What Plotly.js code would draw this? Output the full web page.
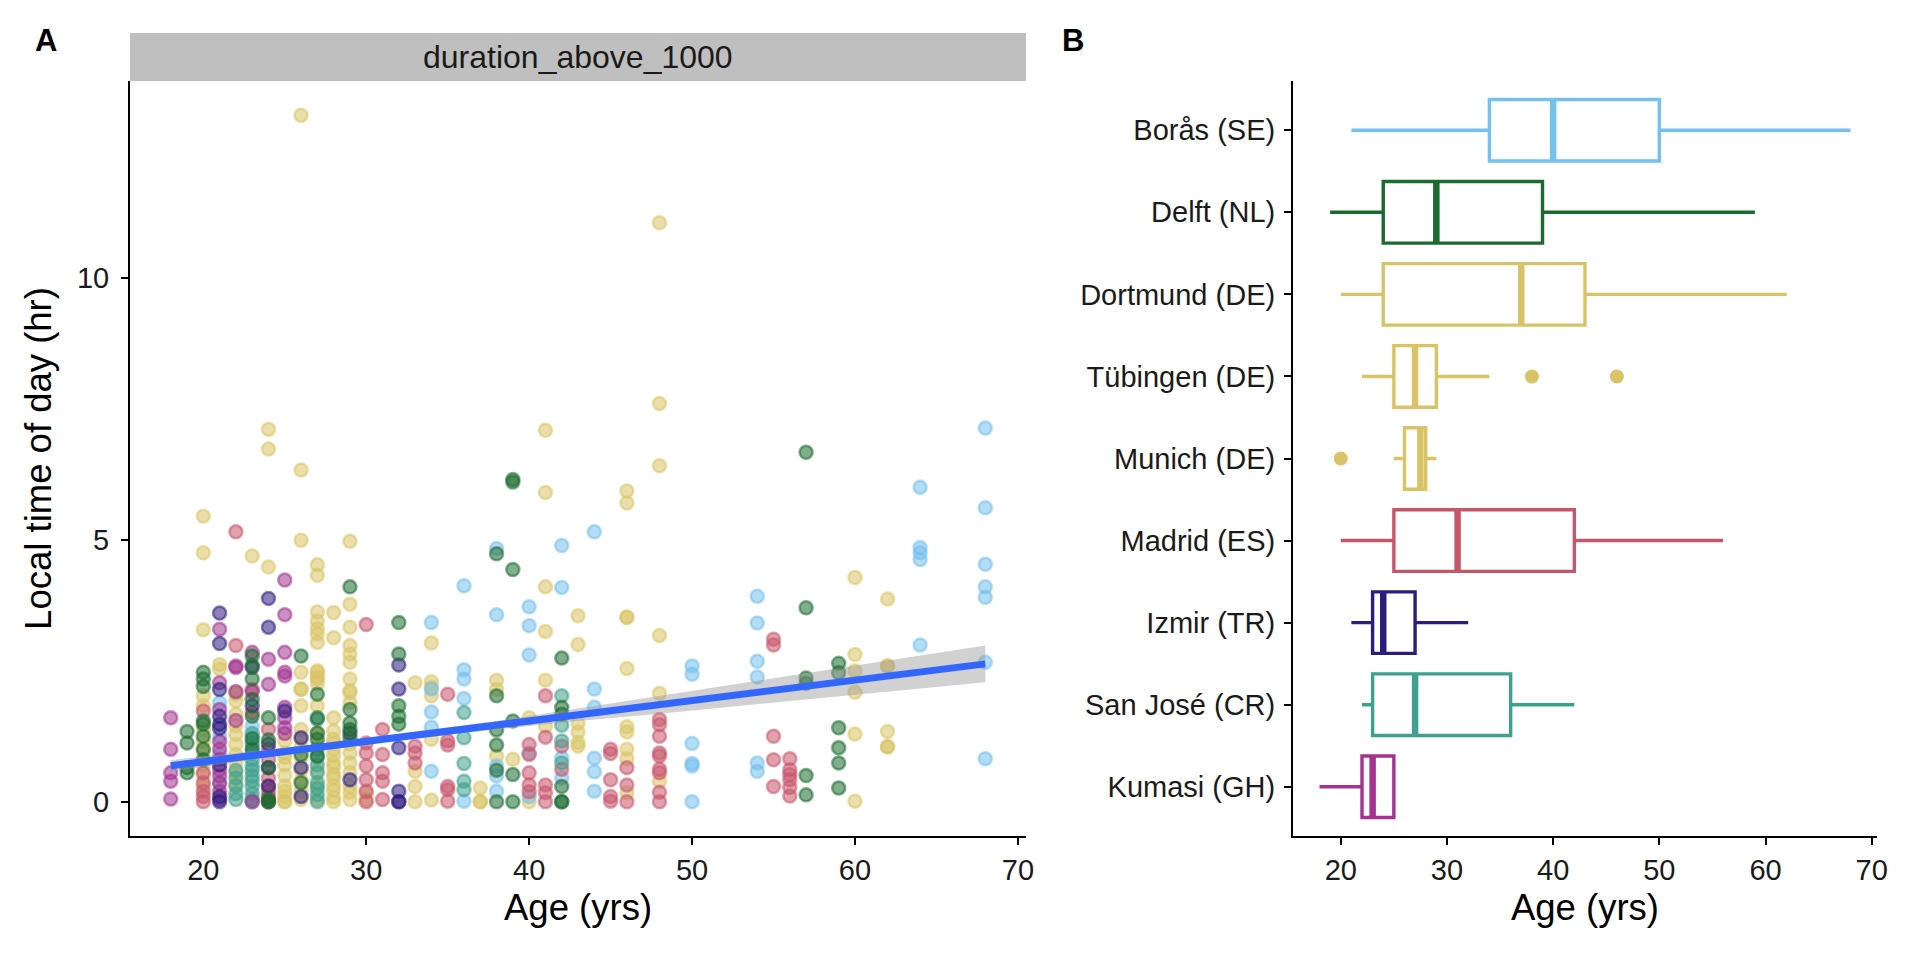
<!DOCTYPE html>
<html>
<head>
<meta charset="utf-8">
<script src="https://cdn.plot.ly/plotly-3.0.1.min.js"></script>
<style>
html,body{margin:0;padding:0;background:#fff;}
#chart{width:1920px;height:960px;}
</style>
</head>
<body>
<div id="chart"></div>
<script>
// ---------- Panel A: events (age, local time of day in hr), per city ----------
const borasPts = [[21,1.89],[21,1.25],[21,0.9],[21,0.36],[23,1.44],[23,1.25],[23,1.06],
  [34,3.42],[34,2.15],[34,1.71],[34,1.42],[34,0.58],[36,4.12],[36,2.52],[36,2.34],[36,1.97],[36,0.01],
  [38,4.83],[38,3.57],[38,0.68],[38,0.49],[38,0.2],[40,3.72],[40,3.36],[40,2.8],[40,0.93],[40,0.1],
  [42,4.89],[42,4.09],[42,0.84],[42,0.45],[44,5.15],[44,2.15],[44,1.8],[44,0.83],[44,0.57],[44,0.2],
  [50,2.59],[50,2.43],[50,1.11],[50,0.73],[50,0.68],[50,0.0],[54,3.92],[54,3.41],[54,2.68],[54,2.38],
  [54,0.74],[54,0.58],[64,6.0],[64,4.85],[64,4.75],[64,4.62],[64,2.99],
  [68,7.13],[68,5.61],[68,4.53],[68,4.1],[68,3.9],[68,2.66],[68,0.82]];
const delftPts = [[19,1.34],[19,1.12],[19,0.65],[19,0.55],
  [20,2.47],[20,2.34],[20,2.2],[20,1.54],[20,1.48],[20,1.25],[20,1.0],[20,0.8],
  [23,2.78],[23,2.6],[23,2.34],[23,1.95],[23,1.63],[23,1.2],[23,1.0],
  [24,1.6],[24,1.18],[24,0.65],[24,0.0],[24,0.0],[24,0.05],[26,2.78],[26,0.9],[26,0.36],
  [27,2.05],[27,1.6],[27,1.31],[27,1.19],[27,0.87],[29,4.1],[29,1.76],[29,1.5],[29,1.38],[29,1.22],
  [32,3.42],[32,2.82],[32,1.83],[32,1.63],[32,1.48],[38,4.73],[38,2.02],[38,1.37],[38,1.08],[38,0.6],[38,0.0],
  [39,6.15],[39,6.1],[39,4.43],[39,1.54],[39,0.52],[39,0.0],[42,2.74],[42,1.8],[42,1.67],[42,0.29],[42,0.0],[42,0.0],
  [57,6.67],[57,3.7],[57,2.36],[57,2.26],[57,0.5],[57,0.13],[59,2.64],[59,2.46],[59,1.41],[59,1.03],[59,0.74],[59,0.26]];
const dortmundPts = [[21,2.62],[21,2.53],[23,4.69],[24,7.11],[24,6.73],[24,4.48],
  [26,2.14],[26,1.83],[26,1.38],[26,1.2],[26,1.03],[26,0.85],[26,0.6],[26,0.4],[26,0.2],[26,0.04],
  [30,0.17],[30,0.04],[37,0.26],[37,0.0],[37,0.0],[39,0.81],[40,1.6],[40,0.0],
  [41,7.09],[41,5.9],[41,4.1],[41,3.25],[41,2.32],[41,1.44],[43,3.55],[43,3.0],[43,1.5],[43,1.33],[43,1.13],[43,1.06],
  [46,1.43],[46,1.33],[46,1.0],[46,0.82],[46,0.17],[48,11.05],[48,7.6],[48,6.41],[48,3.17],[48,2.07],[48,0.39],
  [60,4.28],[60,2.81],[60,2.5],[60,2.09],[60,1.29],[60,0.01],[62,3.87],[62,2.59],[62,2.59],[62,1.34],[62,1.05],[62,1.05]];
const tubingenPts = [[22,2.1],[22,2.05],[22,1.92],[22,1.67],[22,1.45],[22,1.28],[22,1.09],[22,0.9],[22,0.75],[22,0.55],[22,0.33],
  [27,4.52],[27,4.32],[27,3.62],[27,3.45],[27,3.3],[27,3.2],[27,3.04],[27,2.5],[27,2.47],[27,2.38],[27,2.34],[27,2.25],
  [27,1.83],[27,1.3],[27,1.06],[27,0.6],[27,0.3],[27,0.04],
  [29,4.97],[29,3.77],[29,3.33],[29,2.98],[29,2.82],[29,2.66],[29,2.34],[29,2.12],[29,2.08],[29,1.89],
  [29,1.1],[29,0.93],[29,0.74],[29,0.55],[29,0.29],[29,0.18],[29,0.04],
  [33,2.27],[33,0.58],[33,0.29],[33,0.0],[34,3.03],[34,2.29],[34,2.18],[34,2.02],[34,1.19],[34,0.03],
  [38,2.32],[38,2.14],[38,0.87],[46,5.93],[46,5.7],[46,3.52],[46,3.52],[46,2.54]];
const munichPts = [[20,5.45],[20,4.75],[20,3.28],[20,2.02],[20,1.83],[20,1.38],[20,1.15],[20,0.96],[20,0.7],[20,0.52],[20,0.29],
  [25,1.16],[25,0.93],[25,0.85],[25,0.7],[25,0.5],[25,0.3],[25,0.2],[25,0.1],[25,0.0],[25,0.0],
  [26,13.1],[26,6.33],[26,4.99],[26,2.47],[26,2.15],
  [28,3.61],[28,3.13],[28,1.6],[28,1.35],[28,1.19],[28,1.12],[28,1.0],[28,0.88],[28,0.74],[28,0.66],
  [28,0.52],[28,0.45],[28,0.31],[28,0.22],[28,0.08],[28,0.0]];
const madridPts = [[20,1.73],[20,0.55],[20,0.36],[20,0.2],[20,0.1],[20,0.0],[22,5.15],[22,2.98],[23,2.14],[23,1.7],
  [24,1.38],[24,1.0],[24,0.8],[24,0.45],[24,0.29],[24,0.2],[24,0.1],[24,0.0],
  [30,3.38],[30,1.12],[30,0.93],[30,0.68],[30,0.42],[30,0.2],[30,0.0],[31,1.38],[31,0.9],[31,0.55],[31,0.39],[31,0.04],
  [33,1.06],[33,0.93],[33,0.74],[35,2.05],[35,1.16],[35,1.08],[35,0.29],[35,0.23],[35,0.01],
  [40,1.09],[40,0.9],[40,0.55],[40,0.32],[40,0.19],[41,2.02],[41,1.23],[41,0.32],[41,0.17],[41,0.0],[42,1.06],[42,0.62],
  [45,1.0],[45,0.92],[45,0.42],[45,0.1],[45,0.01],[46,0.65],[46,0.32],[46,0.0],
  [48,1.57],[48,1.47],[48,1.25],[48,0.93],[48,0.87],[48,0.62],[48,0.55],[48,0.18],[48,0.0],
  [55,3.1],[55,2.99],[55,1.25],[55,0.8],[55,0.29],[56,0.82],[56,0.61],[56,0.52],[56,0.42],[56,0.27],[56,0.11]];
const izmirPts = [[21,3.6],[21,3.02],[21,2.14],[21,1.63],[21,1.48],[21,1.4],[21,0.7],[21,0.1],[21,0.0],
  [23,2.56],[23,1.83],[24,3.88],[24,3.33],[24,1.1],[24,0.65],[24,0.3],[25,1.73],[26,1.22],[26,0.65],[26,0.1],
  [29,1.31],[29,0.42],[32,2.61],[32,2.15],[32,1.03],[32,0.2],[32,0.0],[32,0.0]];
const sanJosePts = [[22,0.6],[22,0.45],[22,0.3],[22,0.15],[22,0.04],
  [23,1.3],[23,1.12],[23,0.93],[23,0.8],[23,0.68],[23,0.6],[23,0.49],[23,0.4],[23,0.29],[23,0.15],[23,0.04],[23,0.0],
  [27,1.57],[27,1.0],[27,0.85],[27,0.7],[27,0.55],[27,0.36],[27,0.25],[27,0.13],[27,0.0],
  [36,1.7],[36,1.22],[36,0.73],[36,0.39],[36,0.23],[42,2.02],[42,1.46],[42,1.16],[42,0.74]];
const kumasiPts = [[18,1.6],[18,1.0],[18,0.55],[18,0.39],[18,0.05],
  [21,3.29],[21,2.27],[21,1.76],[21,1.15],[21,1.0],[21,0.81],[21,0.61],[21,0.49],[21,0.35],[21,0.2],[21,0.04],
  [22,2.59],[22,2.56],[22,2.1],[22,1.55],[23,2.85],[23,2.1],[23,0.0],[24,2.72],[24,2.24],
  [25,4.23],[25,3.57],[25,2.85],[25,2.47],[25,2.4],[25,1.8],[25,1.6],[25,1.41],[25,1.3]];

// linear fit with 95% CI
const fitAge  = [18, 23, 28, 33, 38, 43, 48, 53, 58, 63, 68];
const fitHr   = [0.685, 0.88, 1.07, 1.27, 1.46, 1.66, 1.85, 2.05, 2.24, 2.44, 2.63];
const fitLow  = [0.575, 0.80, 1.01, 1.21, 1.38, 1.54, 1.68, 1.83, 1.97, 2.13, 2.28];
const fitHigh = [0.795, 0.96, 1.13, 1.33, 1.54, 1.78, 2.02, 2.27, 2.51, 2.75, 2.98];

// ---------- Panel B: age distribution per city ----------
const cities   = ['Borås (SE)','Delft (NL)','Dortmund (DE)','Tübingen (DE)','Munich (DE)','Madrid (ES)','Izmir (TR)','San José (CR)','Kumasi (GH)'];
const ageLow   = [21, 19, 20, 22, 25, 20, 21, 22, 18];
const ageQ1    = [34, 24, 24, 25, 26, 25, 23, 23, 22];
const ageMed   = [40, 29, 37, 27, 27.5, 31, 24, 27, 23];
const ageQ3    = [50, 39, 43, 29, 28, 42, 27, 36, 25];
const ageHigh  = [68, 59, 62, 34, 29, 56, 32, 42, 25];
const outlierCity = ['Tübingen (DE)','Tübingen (DE)','Munich (DE)'];
const outlierAge  = [38, 46, 20];

const ageTicks = [20, 30, 40, 50, 60, 70];
const hrTicks  = [0, 5, 10];

// ---------- styling ----------
const cityColor = {
  'Borås (SE)':'#75C0EC','Delft (NL)':'#1A6B2D','Dortmund (DE)':'#D8C466','Tübingen (DE)':'#D8C466',
  'Munich (DE)':'#D8C466','Madrid (ES)':'#C8566B','Izmir (TR)':'#2D1C7F','San José (CR)':'#3FA18D','Kumasi (GH)':'#A3338F'
};
function rgba(hex, a){
  const n = parseInt(hex.slice(1),16);
  return 'rgba('+((n>>16)&255)+','+((n>>8)&255)+','+(n&255)+','+a+')';
}
const FONT = 'Liberation Sans, Arial, Helvetica, sans-serif';
const ALPHA = 0.55;

const scatterSets = [
  ['Dortmund (DE)', dortmundPts], ['Tübingen (DE)', tubingenPts], ['Munich (DE)', munichPts],
  ['Borås (SE)', borasPts], ['Madrid (ES)', madridPts], ['San José (CR)', sanJosePts],
  ['Kumasi (GH)', kumasiPts], ['Izmir (TR)', izmirPts], ['Delft (NL)', delftPts]
];
const traces = [];
scatterSets.forEach(([city, pts]) => {
  const c = cityColor[city];
  traces.push({
    type:'scatter', mode:'markers', xaxis:'x', yaxis:'y', name: city,
    x: pts.map(p=>p[0]), y: pts.map(p=>p[1]),
    marker:{size:13, color: rgba(c, ALPHA), line:{color: rgba(c, ALPHA), width:2.5}},
    hoverinfo:'skip'
  });
});
// CI ribbon
traces.push({type:'scatter', mode:'lines', x: fitAge, y: fitLow, line:{width:0, color:'rgba(0,0,0,0)'}, xaxis:'x', yaxis:'y', hoverinfo:'skip'});
traces.push({type:'scatter', mode:'lines', x: fitAge, y: fitHigh, line:{width:0, color:'rgba(0,0,0,0)'}, fill:'tonexty',
  fillcolor:'rgba(153,153,153,0.45)', xaxis:'x', yaxis:'y', hoverinfo:'skip'});
traces.push({type:'scatter', mode:'lines', x: fitAge, y: fitHr, line:{width:7, color:'#3366FF'}, xaxis:'x', yaxis:'y', hoverinfo:'skip'});

// boxes (positions: top category = highest number)
const pos = cities.map((c,i)=> cities.length - i);
const BW = 0.75;
cities.forEach((city,i)=>{
  const c = cityColor[city];
  traces.push({
    type:'box', orientation:'h', xaxis:'x2', yaxis:'y2', name: city,
    y:[pos[i]], q1:[ageQ1[i]], median:[ageMed[i]], q3:[ageQ3[i]],
    lowerfence:[ageLow[i]], upperfence:[ageHigh[i]],
    width: BW, whiskerwidth: 0, boxpoints:false,
    line:{color:c, width:3.4}, fillcolor:'rgba(255,255,255,0)', hoverinfo:'skip'
  });
});
cities.forEach((city,i)=>{
  traces.push({
    type:'scatter', mode:'lines', xaxis:'x2', yaxis:'y2',
    x:[ageMed[i], ageMed[i]], y:[pos[i]-BW/2, pos[i]+BW/2],
    line:{color: cityColor[city], width:6.5}, hoverinfo:'skip'
  });
});
traces.push({
  type:'scatter', mode:'markers', xaxis:'x2', yaxis:'y2',
  x: outlierAge, y: outlierCity.map(c => pos[cities.indexOf(c)]),
  marker:{size:14, color: outlierCity.map(c=>cityColor[c])}, hoverinfo:'skip'
});

const axisBase = {
  showline:true, linecolor:'#000', linewidth:2, mirror:false,
  ticks:'outside', ticklen:7, tickwidth:2, tickcolor:'#000',
  showgrid:false, zeroline:false, fixedrange:true,
  tickfont:{family:FONT, size:29, color:'#1a1a1a'}
};
const titleFont = {family:FONT, size:36.5, color:'#000'};

const layout = {
  width:1920, height:960,
  margin:{l:130, r:43, t:81, b:124},
  paper_bgcolor:'#fff', plot_bgcolor:'#fff',
  showlegend:false, hovermode:false,
  font:{family:FONT, color:'#000'},
  xaxis: Object.assign({}, axisBase, {domain:[0, 0.5129], range:[15.5, 70.5], tickmode:'array', tickvals: ageTicks,
    anchor:'y', title:{text:'Age (yrs)', font:titleFont, standoff:10}}),
  yaxis: Object.assign({}, axisBase, {domain:[0,1], range:[-0.655, 13.755], tickmode:'array', tickvals: hrTicks,
    anchor:'x', ticklabelstandoff:6, title:{text:'Local time of day (hr)', font:titleFont, standoff:14}}),
  xaxis2: Object.assign({}, axisBase, {domain:[0.6657, 1], range:[15.5, 70.5], tickmode:'array', tickvals: ageTicks,
    anchor:'y2', title:{text:'Age (yrs)', font:titleFont, standoff:10}}),
  yaxis2: Object.assign({}, axisBase, {domain:[0,1], range:[0.4, 9.6], tickmode:'array', tickvals: pos, ticktext: cities,
    anchor:'x2', ticklabelstandoff:3}),
  shapes:[
    {type:'rect', xref:'paper', yref:'paper', x0:0, x1:0.5129, y0:1, y1:1.0636, fillcolor:'#BFBFBF', line:{width:0}, layer:'below'}
  ],
  annotations:[
    {text:'duration_above_1000', xref:'paper', yref:'paper', x:0.25645, y:1.0318, xanchor:'center', yanchor:'middle',
      showarrow:false, font:{family:FONT, size:32, color:'#1a1a1a'}},
    {text:'<b>A</b>', xref:'paper', yref:'paper', x:-0.0482, y:1.0543, xanchor:'center', yanchor:'middle',
      showarrow:false, font:{family:FONT, size:31, color:'#000'}},
    {text:'<b>B</b>', xref:'paper', yref:'paper', x:0.5395, y:1.0543, xanchor:'center', yanchor:'middle',
      showarrow:false, font:{family:FONT, size:31, color:'#000'}}
  ]
};

Plotly.newPlot('chart', traces, layout, {staticPlot:true, displayModeBar:false});
</script>
</body>
</html>
